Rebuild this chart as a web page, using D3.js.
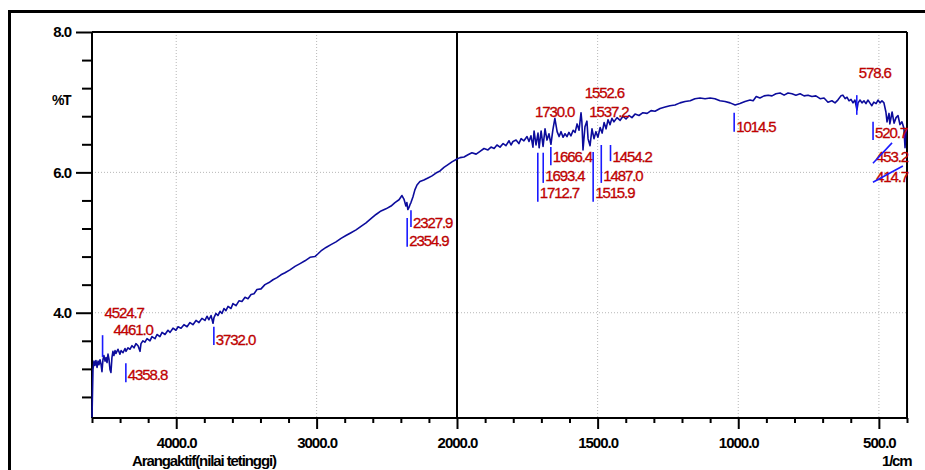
<!DOCTYPE html>
<html>
<head>
<meta charset="utf-8">
<script src="https://cdn.jsdelivr.net/npm/d3@7"></script>
<style>
body { margin: 0; background: #fff; }
svg { display: block; }
</style>
</head>
<body>
<script>
// spectrum: [wavenumber 1/cm, %T]
var spectrum = [
    [4600, 2.51], [4593, 3.19], [4586, 3.31], [4579, 3.25], [4572, 3.32], [4564, 3.22], [4557, 3.31],
    [4550, 3.26], [4543, 3.33], [4536, 3.27], [4529, 3.16], [4522, 3.33], [4515, 3.39], [4507, 3.31],
    [4500, 3.36], [4493, 3.29], [4486, 3.41], [4479, 3.34], [4472, 3.19], [4465, 3.15], [4458, 3.36],
    [4451, 3.45], [4444, 3.39], [4436, 3.46], [4429, 3.42], [4415, 3.48], [4401, 3.41], [4393, 3.46],
    [4379, 3.43], [4365, 3.49], [4358, 3.45], [4344, 3.50], [4329, 3.48], [4315, 3.53], [4301, 3.50],
    [4287, 3.56], [4272, 3.53], [4258, 3.45], [4251, 3.56], [4237, 3.60], [4223, 3.58], [4208, 3.63],
    [4187, 3.60], [4173, 3.66], [4151, 3.63], [4137, 3.69], [4116, 3.66], [4101, 3.72], [4080, 3.69],
    [4059, 3.75], [4044, 3.72], [4023, 3.78], [4002, 3.75], [3987, 3.80], [3966, 3.78], [3945, 3.83],
    [3923, 3.80], [3902, 3.86], [3881, 3.83], [3859, 3.89], [3838, 3.86], [3817, 3.92], [3795, 3.89],
    [3781, 3.95], [3767, 3.90], [3752, 3.96], [3738, 3.85], [3731, 3.93], [3717, 3.99], [3703, 3.96],
    [3688, 4.02], [3674, 3.99], [3660, 4.06], [3646, 4.03], [3631, 4.09], [3610, 4.06], [3596, 4.13],
    [3574, 4.10], [3553, 4.17], [3532, 4.16], [3510, 4.22], [3489, 4.20], [3467, 4.26], [3446, 4.27],
    [3425, 4.33], [3396, 4.34], [3368, 4.40], [3339, 4.43], [3311, 4.47], [3282, 4.50], [3254, 4.54],
    [3225, 4.57], [3190, 4.61], [3154, 4.66], [3118, 4.70], [3083, 4.74], [3047, 4.79], [3012, 4.80],
    [2990, 4.84], [2969, 4.88], [2933, 4.93], [2898, 4.97], [2862, 5.01], [2826, 5.06], [2791, 5.10],
    [2755, 5.14], [2719, 5.18], [2684, 5.23], [2648, 5.28], [2613, 5.34], [2577, 5.40], [2541, 5.45],
    [2506, 5.48], [2470, 5.52], [2442, 5.57], [2413, 5.61], [2392, 5.67], [2378, 5.62], [2364, 5.52],
    [2357, 5.57], [2350, 5.47], [2342, 5.50], [2335, 5.54], [2328, 5.57], [2314, 5.65], [2300, 5.75],
    [2285, 5.82], [2264, 5.87], [2236, 5.89], [2207, 5.92], [2178, 5.95], [2150, 5.99], [2121, 6.02],
    [2093, 6.07], [2064, 6.11], [2036, 6.15], [2000, 6.19],
    [1989, 6.21], [1975, 6.22], [1961, 6.25], [1947, 6.28], [1932, 6.26], [1918, 6.30], [1904, 6.34],
    [1890, 6.32], [1879, 6.36], [1868, 6.34], [1858, 6.39], [1847, 6.36], [1836, 6.41], [1826, 6.38],
    [1815, 6.45], [1808, 6.39], [1801, 6.44], [1790, 6.46], [1780, 6.41], [1772, 6.48], [1762, 6.45],
    [1751, 6.51], [1744, 6.44], [1737, 6.52], [1730, 6.36], [1726, 6.59], [1719, 6.39], [1712, 6.56],
    [1708, 6.35], [1701, 6.59], [1694, 6.37], [1687, 6.62], [1680, 6.46], [1673, 6.55], [1666, 6.40],
    [1659, 6.61], [1652, 6.77], [1644, 6.58], [1637, 6.51], [1630, 6.58], [1623, 6.50], [1616, 6.55],
    [1609, 6.51], [1602, 6.57], [1595, 6.52], [1587, 6.60], [1580, 6.57], [1573, 6.69], [1566, 6.60],
    [1559, 6.85], [1556, 6.72], [1552, 6.32], [1545, 6.65], [1538, 6.73], [1534, 6.48], [1527, 6.38],
    [1520, 6.62], [1513, 6.48], [1506, 6.58], [1499, 6.50], [1491, 6.64], [1484, 6.56], [1477, 6.71],
    [1470, 6.62], [1463, 6.75], [1456, 6.68], [1449, 6.77], [1442, 6.72], [1431, 6.78], [1420, 6.74],
    [1410, 6.80], [1399, 6.76], [1388, 6.81], [1378, 6.78], [1367, 6.83], [1353, 6.81], [1339, 6.85],
    [1324, 6.84], [1310, 6.88], [1296, 6.87], [1278, 6.91], [1260, 6.93], [1243, 6.95], [1225, 6.96],
    [1207, 6.99], [1189, 7.01], [1171, 7.02], [1154, 7.05], [1136, 7.06], [1118, 7.05], [1100, 7.06],
    [1083, 7.05], [1065, 7.02], [1047, 7.01], [1029, 6.99], [1011, 6.96], [994, 6.98], [976, 7.01],
    [958, 7.03], [947, 7.02], [936, 7.08], [923, 7.06], [908, 7.09], [894, 7.10], [880, 7.09],
    [866, 7.12], [851, 7.13], [837, 7.10], [823, 7.13], [809, 7.12], [795, 7.10], [780, 7.12],
    [766, 7.09], [752, 7.10], [738, 7.08], [724, 7.09], [709, 7.05], [695, 7.06], [681, 7.00],
    [667, 7.02], [656, 6.99], [646, 7.03], [635, 7.09], [628, 7.10], [620, 7.05], [613, 7.07],
    [606, 7.02], [599, 7.04], [592, 6.99], [585, 7.03], [578, 6.89], [574, 6.99], [567, 7.03],
    [560, 6.99], [553, 7.02], [546, 6.98], [539, 7.03], [532, 6.99], [525, 6.95], [518, 7.00],
    [510, 6.98], [503, 7.03], [496, 6.99], [489, 7.02], [482, 6.99], [475, 6.86], [471, 6.72],
    [464, 6.84], [461, 6.69], [453, 6.86], [446, 6.70], [439, 6.78], [432, 6.81], [425, 6.68],
    [418, 6.72], [411, 6.63], [407, 6.35], [404, 6.58], [400, 6.63]
];

// peak picks
var peakWavenumbers = [4524.7, 4461.0, 4358.8, 3732.0, 2354.9, 2327.9, 1730.0, 1712.7, 1693.4, 1666.4,
    1552.6, 1537.2, 1515.9, 1487.0, 1454.2, 1014.5, 578.6, 520.7, 453.2, 414.7];
var peakLabelT = [4.00, 3.76, 3.12, 3.62, 5.03, 5.28, 6.86, 5.71, 5.95, 6.22,
    7.13, 6.87, 5.71, 5.95, 6.23, 6.65, 7.42, 6.56, 6.22, 5.94];
// marker line ends in %T (null = no marker drawn)
var peakMarkTop = [3.68, null, 3.28, 3.80, 5.35, 5.46, null, 6.28, 6.28, 6.36,
    null, null, 6.29, 6.39, 6.39, 6.85, 7.10, 6.72, 6.42, 6.09];
var peakMarkBottom = [3.37, null, 3.01, 3.54, 4.94, 5.22, null, 5.58, 5.85, 6.10,
    null, null, 5.58, 5.85, 6.16, 6.58, 6.82, 6.46, 6.13, 5.86];

var xMajorTicks = [4000, 3000, 2000, 1500, 1000, 500];
var xMinorTicks = [4600, 4400, 4200, 3800, 3600, 3400, 3200, 2800, 2600, 2400, 2200,
    1900, 1800, 1700, 1600, 1400, 1300, 1200, 1100, 900, 800, 700, 600, 400];
var yMajorTicks = [8.0, 6.0, 4.0];
var yMinorTicks = [7.6, 7.2, 6.8, 6.4, 5.6, 5.2, 4.8, 4.4, 3.6, 3.2, 2.8];
var xGrid = [4000, 3000, 1500, 1000, 500];
var yGrid = [6.0, 4.0];

var scr = { w: 925, h: 470 };
var plot = { left: 92, right: 907, top: 32, bottom: 418, brk: 457 };
var tickFont = '"Liberation Sans", Arial, sans-serif';

var svg = d3.select('body').append('svg')
    .attr('width', scr.w)
    .attr('height', scr.h);

// outer frame (only top/left visible)
svg.append('rect')
    .attr('x', 9.5).attr('y', 11.5)
    .attr('width', 1000).attr('height', 1000)
    .attr('fill', 'none')
    .attr('stroke', '#000')
    .attr('stroke-width', 3);

// two linear pieces, break at 2000
var x = d3.scaleLinear()
    .domain([4600, 2000, 400])
    .range([plot.left, plot.brk, plot.right]);
var y = d3.scaleLinear()
    .domain([2.5, 8.0])
    .range([plot.bottom, plot.top]);

// dotted grid
svg.append('g').selectAll('line')
    .data(xGrid)
    .enter().append('line')
    .attr('x1', function(d) { return x(d); })
    .attr('x2', function(d) { return x(d); })
    .attr('y1', plot.top).attr('y2', plot.bottom)
    .attr('stroke', '#b8b8b8')
    .attr('stroke-dasharray', '1,2');
svg.append('g').selectAll('line')
    .data(yGrid)
    .enter().append('line')
    .attr('x1', plot.left).attr('x2', plot.right)
    .attr('y1', function(d) { return y(d); })
    .attr('y2', function(d) { return y(d); })
    .attr('stroke', '#b8b8b8')
    .attr('stroke-dasharray', '1,2');

// axes
var styleAxis = function(g) {
    g.select('.domain').remove();
    g.selectAll('.tick line').attr('stroke', '#000').attr('stroke-width', 2);
    g.selectAll('.tick text')
        .attr('fill', '#000')
        .style('font-family', tickFont)
        .style('font-size', '15px')
        .style('font-weight', 'bold')
        .style('letter-spacing', '-1px');
};

svg.append('g')
    .attr('transform', 'translate(0,' + plot.bottom + ')')
    .call(d3.axisBottom(x).tickValues(xMinorTicks).tickSize(5).tickFormat(''))
    .call(styleAxis);
svg.append('g')
    .attr('transform', 'translate(0,' + plot.bottom + ')')
    .call(d3.axisBottom(x).tickValues(xMajorTicks).tickSize(11).tickPadding(8).tickFormat(d3.format('.1f')))
    .call(styleAxis);
svg.append('g')
    .attr('transform', 'translate(' + plot.left + ',0)')
    .call(d3.axisLeft(y).tickValues(yMinorTicks).tickSize(10).tickFormat(''))
    .call(styleAxis);
svg.append('g')
    .attr('transform', 'translate(' + plot.left + ',0)')
    .call(d3.axisLeft(y).tickValues(yMajorTicks).tickSize(16).tickPadding(5).tickFormat(d3.format('.1f')))
    .call(styleAxis);

// plot box + the 2000 break line
var frameLines = [
    [plot.left, plot.top, plot.right, plot.top],
    [plot.left, plot.top, plot.left, plot.bottom],
    [plot.left, plot.bottom, plot.right, plot.bottom],
    [plot.right, plot.top, plot.right, plot.bottom],
    [x(2000), plot.top, x(2000), plot.bottom]
];
svg.append('g').selectAll('line')
    .data(frameLines)
    .enter().append('line')
    .attr('x1', function(d) { return d[0]; })
    .attr('y1', function(d) { return d[1]; })
    .attr('x2', function(d) { return d[2]; })
    .attr('y2', function(d) { return d[3]; })
    .attr('stroke', '#000')
    .attr('stroke-width', 2);

// spectrum
var line = d3.line()
    .x(function(d) { return x(d[0]); })
    .y(function(d) { return y(d[1]); });
svg.append('path')
    .datum(spectrum)
    .attr('d', line)
    .attr('fill', 'none')
    .attr('stroke', '#0c0c9c')
    .attr('stroke-width', 1.6)
    .attr('stroke-linejoin', 'round');

// peak labels
var peaks = peakWavenumbers.map(function(w, i) {
    return { w: w, label: peakLabelT[i], top: peakMarkTop[i], bottom: peakMarkBottom[i] };
});

var labels = svg.append('g').selectAll('text')
    .data(peaks)
    .enter().append('text')
    .attr('y', function(d) { return y(d.label); })
    .attr('dy', '0.36em')
    .attr('fill', '#d10000')
    .attr('stroke', '#a00000')
    .attr('stroke-width', 0.3)
    .style('font-family', tickFont)
    .style('font-size', '15px')
    .style('letter-spacing', '-1.1px')
    .text(function(d) { return d3.format('.1f')(d.w); });

labels.attr('x', function(d) {
    var tw = this.getComputedTextLength();
    d.lx = Math.min(x(d.w) + 2, plot.right - tw + 1);
    return d.lx;
});

// marker lines; labels pushed left of their peak get a slanted leader
svg.append('g').selectAll('line')
    .data(peaks.filter(function(d) { return d.top !== null; }))
    .enter().append('line')
    .attr('x1', function(d) { return d.lx < x(d.w) - 4 ? d.lx - 3 : x(d.w); })
    .attr('x2', function(d) { return x(d.w); })
    .attr('y1', function(d) { return y(d.bottom); })
    .attr('y2', function(d) { return y(d.top); })
    .attr('stroke', '#1a1aff')
    .attr('stroke-width', 1.6);

// axis titles
svg.append('text')
    .attr('x', 52).attr('y', 100)
    .attr('dy', '0.36em')
    .style('font-family', tickFont)
    .style('font-size', '14px')
    .style('font-weight', 'bold')
    .style('letter-spacing', '-1.5px')
    .text('%T');
svg.append('text')
    .attr('x', 132).attr('y', 466)
    .style('font-family', tickFont)
    .style('font-size', '15px')
    .style('font-weight', 'bold')
    .style('letter-spacing', '-1.1px')
    .text('Arangaktif(nilai tetinggi)');
svg.append('text')
    .attr('x', 882).attr('y', 466)
    .style('font-family', tickFont)
    .style('font-size', '15px')
    .style('font-weight', 'bold')
    .style('letter-spacing', '-1.2px')
    .text('1/cm');
</script>
</body>
</html>
